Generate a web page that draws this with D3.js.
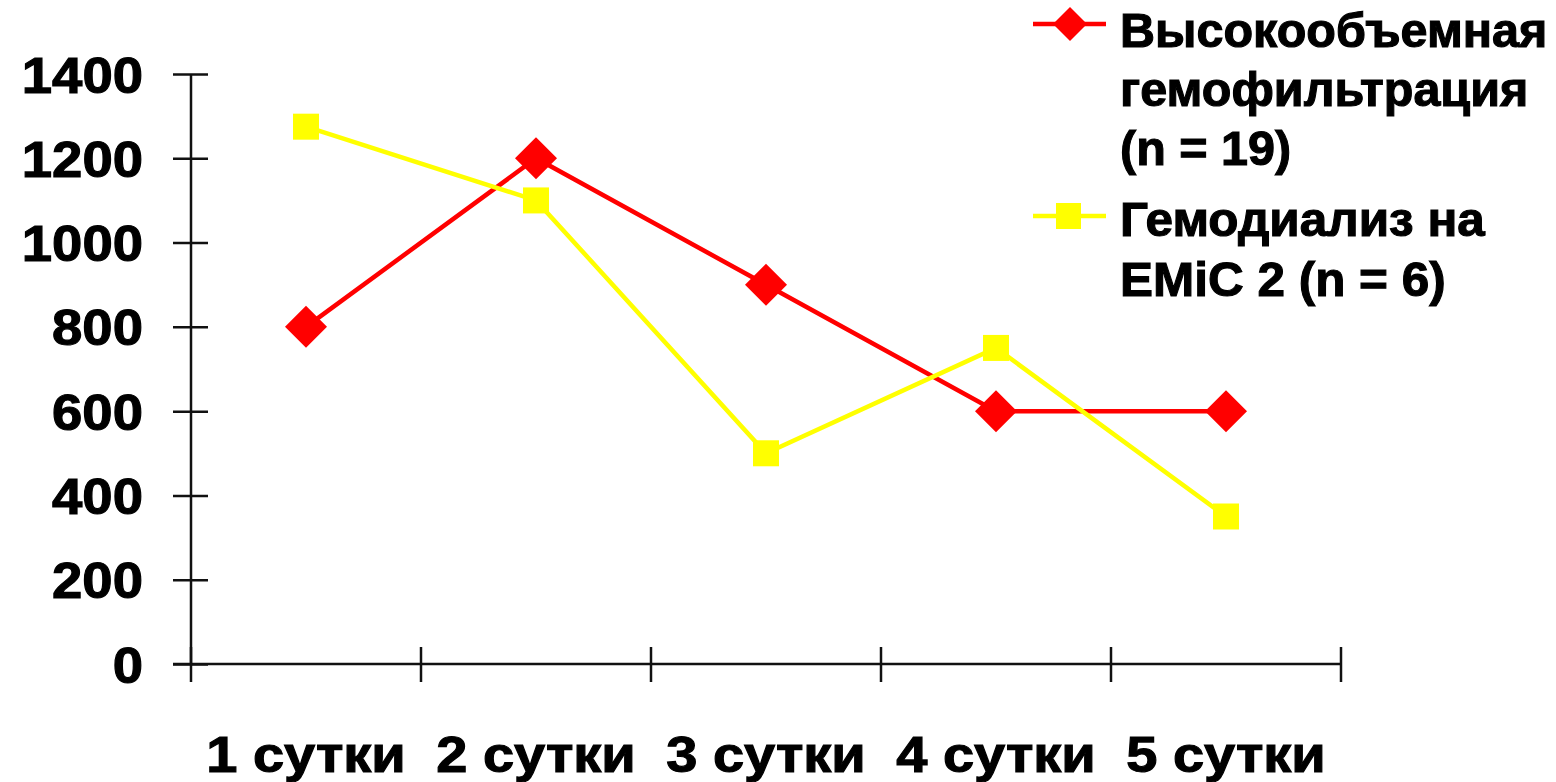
<!DOCTYPE html>
<html>
<head>
<meta charset="utf-8">
<script src="https://cdn.jsdelivr.net/npm/d3@7"></script>
<style>
  html, body { margin: 0; padding: 0; background: #fff; }
  svg { display: block; }
  text { font-family: "Liberation Sans", Arial, sans-serif; font-weight: bold; fill: #000; stroke: #000; stroke-width: 1.1; }
</style>
</head>
<body>
<svg id="chart" width="1556" height="782"></svg>
<script>
// Days of treatment
const categories = ["1 сутки", "2 сутки", "3 сутки", "4 сутки", "5 сутки"];
// High-volume haemofiltration
const hvhfValues = [800, 1200, 900, 600, 600];
// Haemodialysis on EMiC 2
const hdValues = [1275, 1100, 500, 750, 350];
const yTicks = [0, 200, 400, 600, 800, 1000, 1200, 1400];
const hvhfLabel = ["Высокообъемная", "гемофильтрация", "(n = 19)"];
const hdLabel = ["Гемодиализ на", "EMiC 2 (n = 6)"];

const svg = d3.select("#chart");
const FS = 50;
const LFS = 48.5;

// Adjust the horizontal width of a text by factor k
function stretch(k) {
  return sel => sel.each(function () {
    const w = this.getComputedTextLength();
    d3.select(this).attr("textLength", w * k).attr("lengthAdjust", "spacingAndGlyphs");
  });
}

const x = d3.scaleBand().domain(categories).range([191, 1341]).paddingInner(0).paddingOuter(0);
const y = d3.scaleLinear().domain([0, 1400]).range([664, 74]);
const AX = "#111";

// Y axis
const yAxis = svg.append("g").attr("transform", "translate(191,0)")
  .call(d3.axisLeft(y).tickValues(yTicks).tickSize(18).tickFormat(d3.format("d")));
yAxis.attr("font-family", null).attr("font-size", null);
yAxis.select(".domain").attr("stroke", AX).attr("stroke-width", 2.5).attr("d", `M0,${y(0)}V${y(1400)}`);
yAxis.selectAll(".tick line").attr("x1", -18).attr("x2", 17).attr("stroke", AX).attr("stroke-width", 2.5);
yAxis.selectAll(".tick text").attr("x", -48).attr("dy", null).attr("y", FS * 0.36)
  .attr("font-size", FS).attr("text-anchor", "end").call(stretch(1.09));

// X axis with boundary ticks between days
const xAxis = svg.append("g").attr("transform", `translate(0,${y(0)})`)
  .call(d3.axisBottom(x).tickSize(0).tickPadding(0));
xAxis.attr("font-family", null).attr("font-size", null);
xAxis.select(".domain").attr("stroke", AX).attr("stroke-width", 2.5).attr("d", `M${x.range()[0] - 18},0H${x.range()[1]}`);
xAxis.selectAll(".tick text").attr("dy", null).attr("y", 108).attr("font-size", FS).call(stretch(1.12));
const bounds = categories.map(c => x(c)).concat([x.range()[1]]);
xAxis.selectAll(".bound").data(bounds).join("line").attr("class", "bound")
  .attr("x1", d => d).attr("x2", d => d).attr("y1", -17).attr("y2", 18)
  .attr("stroke", AX).attr("stroke-width", 2.5);

const cx = c => x(c) + x.bandwidth() / 2;
const line = d3.line().x(d => cx(d.c)).y(d => y(d.v));
const hvhf = categories.map((c, i) => ({ c, v: hvhfValues[i] }));
const hd = categories.map((c, i) => ({ c, v: hdValues[i] }));

const diamond = r => `M0,${-r}L${r},0L0,${r}L${-r},0Z`;

// High-volume haemofiltration series
svg.append("path").datum(hvhf).attr("d", line).attr("fill", "none").attr("stroke", "#ff0000").attr("stroke-width", 4.5);
svg.selectAll(".dm").data(hvhf).join("path").attr("class", "dm")
  .attr("transform", d => `translate(${cx(d.c)},${y(d.v)})`).attr("d", diamond(21)).attr("fill", "#ff0000");

// Haemodialysis series
svg.append("path").datum(hd).attr("d", line).attr("fill", "none").attr("stroke", "#ffff00").attr("stroke-width", 4.5);
svg.selectAll(".sq").data(hd).join("rect").attr("class", "sq")
  .attr("x", d => cx(d.c) - 13).attr("y", d => y(d.v) - 13).attr("width", 26).attr("height", 26).attr("fill", "#ffff00");

// Legend
const lg = svg.append("g");
lg.append("line").attr("x1", 1033).attr("x2", 1106).attr("y1", 24).attr("y2", 24).attr("stroke", "#ff0000").attr("stroke-width", 4.5);
lg.append("path").attr("transform", "translate(1070,24)").attr("d", diamond(17)).attr("fill", "#ff0000");
lg.append("line").attr("x1", 1033).attr("x2", 1106).attr("y1", 216).attr("y2", 216).attr("stroke", "#ffff00").attr("stroke-width", 4.5);
lg.append("rect").attr("x", 1056).attr("y", 203).attr("width", 25).attr("height", 26).attr("fill", "#ffff00");

lg.selectAll(".l1").data(hvhfLabel).join("text").attr("class", "l1")
  .attr("x", 1120).attr("y", (d, i) => 47 + i * 59).attr("font-size", LFS).text(d => d).call(stretch(1.0));
lg.selectAll(".l2").data(hdLabel).join("text").attr("class", "l2")
  .attr("x", 1120).attr("y", (d, i) => 236 + i * 60).attr("font-size", LFS).text(d => d).call(stretch(1.02));
</script>
</body>
</html>
